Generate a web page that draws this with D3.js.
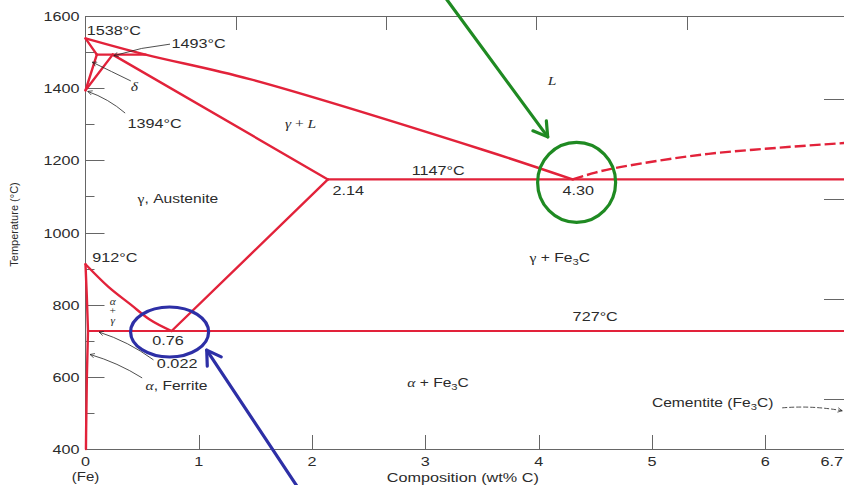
<!DOCTYPE html>
<html>
<head>
<meta charset="utf-8">
<script src="https://cdn.jsdelivr.net/npm/d3@7"></script>
<style>
  html, body { margin: 0; padding: 0; background: #fff; overflow: hidden; }
  svg { display: block; }
</style>
</head>
<body>
<svg id="chart" width="844" height="485"></svg>
<script>
// Iron–iron carbide phase boundaries, points as [wt% C, °C]
const liquidus = [[0, 1538], [0.53, 1493], [1.45, 1425], [3.5, 1230], [4.30, 1147]];
const deltaSolidus = [[0, 1538], [0.10, 1493]];
const peritecticLine = [[0.10, 1493], [0.53, 1493]];
const deltaGammaLower = [[0.10, 1493], [0, 1394]];
const deltaGammaUpper = [[0.24, 1493], [0, 1394]];
const gammaSolidus = [[0.24, 1493], [2.14, 1147]];
const eutecticLine = [[2.14, 1147], [6.7, 1147]];
const acmLine = [[2.14, 1147], [0.76, 727]];
const a3Line = [[0, 912], [0.2, 850], [0.4, 800], [0.57, 758], [0.76, 727]];
const alphaGammaLine = [[0, 912], [0.012, 820], [0.022, 727]];
const alphaSolvus = [[0.022, 727], [0.012, 600], [0.004, 400]];
const eutectoidLine = [[0.022, 727], [6.7, 727]];
const cementiteLiquidus = [[4.30, 1147], [4.5, 1166], [5.0, 1196], [5.5, 1218], [6.0, 1232], [6.7, 1248]];

// Invariant points
const eutecticPoint = [4.30, 1147];
const eutectoidPoint = [0.76, 727];

// Axis ticks
const xTicks = [1, 2, 3, 4, 5, 6];
const xTickLabels = ["0", "1", "2", "3", "4", "5", "6", "6.7"];
const xLabelValues = [0, 1, 2, 3, 4, 5, 6, 6.7];
const yMajorTicks = [400, 600, 800, 1000, 1200, 1400, 1600];
const yMinorTicks = [500, 700, 900, 1100, 1300, 1500];
const fahrenheitTicks = [1000, 1500, 2000, 2500];
const atomicTicks = [5, 10, 15, 20];

const W = 844, H = 485;
const svg = d3.select("#chart");

const x = d3.scaleLinear().domain([0, 6.7]).range([85.5, 844.5]);
const y = d3.scaleLinear().domain([400, 1600]).range([449, 16]);
const xAt = d3.scaleLinear().domain([0, 20]).range([85.5, 686.5]);
const fToC = f => (f - 32) * 5 / 9;
const P = d => [x(d[0]), y(d[1])];

const RED = "#e2223a";
const AXIS = "#666";
const INK = "#2b2b2b";
const SANS = "'Liberation Sans', Arial, Helvetica, sans-serif";
const SERIF = "'Liberation Serif', 'Times New Roman', serif";
const SX = 1.2;

// ---- axes frame ----
const gAxis = svg.append("g").attr("stroke", AXIS).attr("stroke-width", 1).attr("fill", "none");
gAxis.append("line").attr("x1", x(0)).attr("x2", W).attr("y1", y(400) + 0.5).attr("y2", y(400) + 0.5);
gAxis.append("line").attr("x1", x(0)).attr("x2", W).attr("y1", y(1600) + 0.5).attr("y2", y(1600) + 0.5);
gAxis.append("line").attr("x1", x(0)).attr("x2", x(0)).attr("y1", y(1600)).attr("y2", y(400));

// bottom ticks (inward)
gAxis.selectAll(".xt").data(xTicks).join("line")
  .attr("x1", d => Math.round(x(d)) + 0.5).attr("x2", d => Math.round(x(d)) + 0.5)
  .attr("y1", y(400)).attr("y2", y(400) - 14);
// top ticks (atomic %)
gAxis.selectAll(".tt").data(atomicTicks).join("line")
  .attr("x1", d => Math.round(xAt(d)) + 0.5).attr("x2", d => Math.round(xAt(d)) + 0.5)
  .attr("y1", y(1600)).attr("y2", y(1600) + 14);
// left ticks
gAxis.selectAll(".ym").data(yMajorTicks.filter(d => d > 400 && d < 1600)).join("line")
  .attr("x1", x(0)).attr("x2", x(0) + 19)
  .attr("y1", d => Math.round(y(d)) + 0.5).attr("y2", d => Math.round(y(d)) + 0.5);
gAxis.selectAll(".yn").data(yMinorTicks).join("line")
  .attr("x1", x(0)).attr("x2", x(0) + 9)
  .attr("y1", d => Math.round(y(d)) + 0.5).attr("y2", d => Math.round(y(d)) + 0.5);
// right ticks (°F)
gAxis.selectAll(".yf").data(fahrenheitTicks).join("line")
  .attr("x1", W - 20).attr("x2", W)
  .attr("y1", d => Math.round(y(fToC(d))) + 0.5).attr("y2", d => Math.round(y(fToC(d))) + 0.5);

// ---- text helper ----
const gText = svg.append("g");
function label(px, py, anchor, size, parts, fill) {
  const t = gText.append("text")
    .attr("transform", `translate(${px},${py}) scale(${SX},1)`)
    .attr("text-anchor", anchor)
    .attr("font-family", SANS)
    .attr("font-size", size)
    .attr("fill", fill || INK);
  if (typeof parts === "string") parts = [{ t: parts }];
  let shifted = 0;
  parts.forEach(p => {
    const s = t.append("tspan").text(p.t);
    if (p.serif) s.attr("font-family", SERIF);
    if (p.it) s.attr("font-style", "italic");
    if (p.sub) { s.attr("font-size", size * 0.72).attr("dy", 3); shifted = 3; }
    else if (shifted) { s.attr("dy", -shifted); shifted = 0; }
  });
  return t;
}

// tick labels
yMajorTicks.forEach(v => label(x(0) - 6, y(v) + 5, "end", 13.5, String(v)));
xLabelValues.forEach((v, i) => {
  if (v === 6.7) label(W - 1, y(400) + 17, "end", 13.5, xTickLabels[i]);
  else label(x(v), y(400) + 17, "middle", 13.5, xTickLabels[i]);
});
label(x(0), y(400) + 32, "middle", 12.5, "(Fe)");
label(x(3.33), y(400) + 33, "middle", 13.5, "Composition (wt% C)");
svg.append("text")
  .attr("transform", `translate(18,${y(1000) - 8}) rotate(-90)`)
  .attr("text-anchor", "middle")
  .attr("font-family", SANS).attr("font-size", 11).attr("fill", INK)
  .text("Temperature (°C)");

// ---- phase boundaries ----
const line = d3.line().x(d => x(d[0])).y(d => y(d[1]));
const smooth = d3.line().x(d => x(d[0])).y(d => y(d[1])).curve(d3.curveCatmullRom.alpha(0.5));
const smoothX = d3.line().x(d => x(d[0])).y(d => y(d[1])).curve(d3.curveMonotoneX);
const smoothY = d3.line().x(d => x(d[0])).y(d => y(d[1])).curve(d3.curveMonotoneY);
const gPhase = svg.append("g").attr("fill", "none").attr("stroke", RED).attr("stroke-width", 2.4)
  .attr("stroke-linejoin", "round").attr("stroke-linecap", "round");

gPhase.append("path").attr("d", smooth(liquidus));
[deltaSolidus, peritecticLine, deltaGammaLower, deltaGammaUpper, gammaSolidus, acmLine]
  .forEach(d => gPhase.append("path").attr("d", line(d)));
gPhase.append("path").attr("d", smoothX(a3Line));
gPhase.append("path").attr("d", smoothY(alphaGammaLine));
gPhase.append("path").attr("d", smoothY(alphaSolvus));
gPhase.append("path").attr("d", line(eutecticLine)).attr("stroke-width", 2.2);
gPhase.append("path").attr("d", line(eutectoidLine)).attr("stroke-width", 2);
gPhase.append("path")
  .attr("d", smoothX(cementiteLiquidus))
  .attr("stroke-dasharray", "11 4").attr("stroke-linecap", "butt");

// ---- leader arrows ----
const defs = svg.append("defs");
defs.append("marker").attr("id", "tip").attr("viewBox", "0 0 10 10")
  .attr("refX", 9).attr("refY", 5).attr("markerWidth", 7).attr("markerHeight", 7)
  .attr("orient", "auto-start-reverse")
  .append("path").attr("d", "M1,1 L9,5 L1,9").attr("fill", "none").attr("stroke", "#222").attr("stroke-width", 1.2);

function leader(from, to, bend, dashed) {
  const a = P(from), b = P(to);
  const mx = (a[0] + b[0]) / 2, my = (a[1] + b[1]) / 2;
  const dx = b[0] - a[0], dy = b[1] - a[1];
  const len = Math.hypot(dx, dy);
  const cx = mx - dy / len * bend, cy = my + dx / len * bend;
  const p = d3.path();
  p.moveTo(a[0], a[1]);
  p.quadraticCurveTo(cx, cy, b[0], b[1]);
  const el = svg.append("path").attr("d", p.toString())
    .attr("fill", "none").attr("stroke", "#222").attr("stroke-width", 0.8)
    .attr("marker-end", "url(#tip)");
  if (dashed) el.attr("stroke-dasharray", "5 2");
}
leader([0.746, 1522], [0.25, 1490], 3);
leader([0.40, 1420], [0.06, 1472], 0);
leader([0.35, 1331], [0.02, 1391], 4);
leader([0.60, 647], [0.12, 724], 5);
leader([0.50, 597], [0.04, 662], 4);
leader([6.15, 514], [6.68, 506], -4, true);

// ---- region and point labels ----
let p;
p = P([0.01, 1547]); label(p[0], p[1], "start", 13.5, "1538°C");
p = P([0.76, 1511]); label(p[0], p[1], "start", 13.5, "1493°C");
p = P([0.40, 1393]); label(p[0], p[1], "start", 13, [{ t: "δ", serif: true, it: true }]);
p = P([0.37, 1290]); label(p[0], p[1], "start", 13.5, "1394°C");
p = P([1.76, 1290]); label(p[0], p[1], "start", 13, [{ t: "γ", serif: true, it: true }, { t: " + ", serif: true }, { t: "L", serif: true, it: true }]);
p = P([4.08, 1409]); label(p[0], p[1], "start", 13, [{ t: "L", serif: true, it: true }]);
p = P([0.46, 1082]); label(p[0], p[1], "start", 13, [{ t: "γ", serif: true }, { t: ", Austenite" }]);
p = P([2.88, 1159]); label(p[0], p[1], "start", 13.5, "1147°C");
p = P([2.18, 1104]); label(p[0], p[1], "start", 13.5, "2.14");
p = P([4.21, 1104]); label(p[0], p[1], "start", 13.5, "4.30");
p = P([3.92, 918]); label(p[0], p[1], "start", 13, [{ t: "γ", serif: true }, { t: " + Fe" }, { t: "3", sub: true }, { t: "C" }]);
p = P([0.06, 918]); label(p[0], p[1], "start", 13.5, "912°C");
p = P([4.30, 755]); label(p[0], p[1], "start", 13.5, "727°C");
p = P([0.59, 688]); label(p[0], p[1], "start", 13.5, "0.76");
p = P([0.63, 624]); label(p[0], p[1], "start", 13.5, "0.022");
p = P([0.53, 563]); label(p[0], p[1], "start", 13, [{ t: "α", serif: true, it: true }, { t: ", Ferrite" }]);
p = P([2.84, 572]); label(p[0], p[1], "start", 13, [{ t: "α", serif: true, it: true }, { t: " + Fe" }, { t: "3", sub: true }, { t: "C" }]);
p = P([5.0, 516]); label(p[0], p[1], "start", 13, [{ t: "Cementite (Fe" }, { t: "3", sub: true }, { t: "C)" }]);

// stacked α + γ label for the two-phase sliver
p = P([0.24, 800]);
const stack = gText.append("text")
  .attr("transform", `translate(${p[0]},${p[1]}) scale(${SX},1)`)
  .attr("text-anchor", "middle").attr("font-family", SERIF).attr("font-size", 9.5).attr("fill", INK);
stack.append("tspan").attr("x", 0).attr("dy", 0).attr("font-style", "italic").text("α");
stack.append("tspan").attr("x", 0).attr("dy", 9).text("+");
stack.append("tspan").attr("x", 0).attr("dy", 10).attr("font-style", "italic").text("γ");

// ---- highlight rings and pointers ----
const GREEN = "#1f8a22", BLUE = "#2d2fa6";
const e = P(eutecticPoint), ed = P(eutectoidPoint);
svg.append("ellipse").attr("cx", e[0] + 4).attr("cy", e[1] + 3).attr("rx", 39).attr("ry", 40)
  .attr("fill", "none").attr("stroke", GREEN).attr("stroke-width", 3.2);
svg.append("ellipse").attr("cx", ed[0] - 2).attr("cy", ed[1] + 1).attr("rx", 39).attr("ry", 25)
  .attr("fill", "none").attr("stroke", BLUE).attr("stroke-width", 3.2);

function pointer(from, to, color) {
  const a = P(from), b = P(to);
  const ang = Math.atan2(b[1] - a[1], b[0] - a[0]);
  const L = 16, spread = 0.55;
  const g = svg.append("g").attr("stroke", color).attr("stroke-width", 3.2)
    .attr("fill", "none").attr("stroke-linecap", "round").attr("stroke-linejoin", "round");
  g.append("line").attr("x1", a[0]).attr("y1", a[1]).attr("x2", b[0]).attr("y2", b[1]);
  g.append("path").attr("d",
    `M${b[0] - L * Math.cos(ang - spread)},${b[1] - L * Math.sin(ang - spread)} L${b[0]},${b[1]} L${b[0] - L * Math.cos(ang + spread)},${b[1] - L * Math.sin(ang + spread)}`);
}
pointer([3.16, 1658], [4.08, 1265], GREEN);
pointer([1.89, 286], [1.07, 674], BLUE);
</script>
</body>
</html>
